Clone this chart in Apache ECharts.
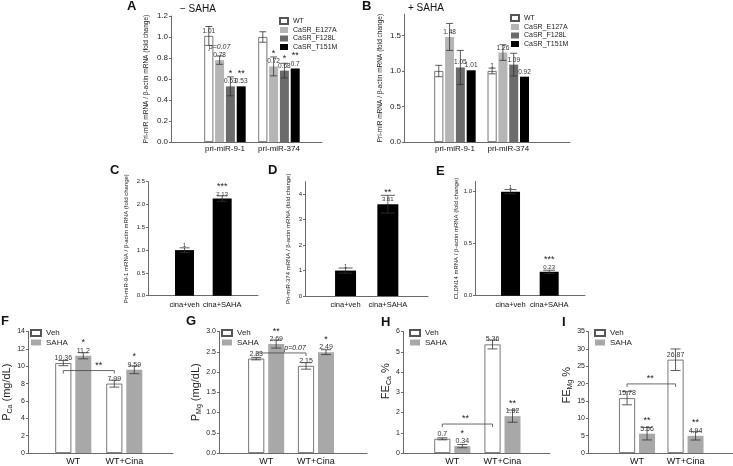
<!DOCTYPE html>
<html><head><meta charset="utf-8">
<script src="https://cdn.jsdelivr.net/npm/echarts@6/dist/echarts.min.js"></script>
<style>html,body{margin:0;padding:0;background:#fff}#c{width:733px;height:466px}</style>
</head><body><div id="c"></div>
<script>
// ---------------- DATA ----------------
// Panels A / B
const catsAB = ['pri-miR-9-1', 'pri-miR-374'];
const mutNames = ['WT', 'CaSR_E127A', 'CaSR_F128L', 'CaSR_T151M'];
const a_WT = [1.01, 1.0],    a_WT_err = [0.09, 0.05],    a_WT_lbl = ['1.01', ''],  a_WT_mark = ['', ''];
const a_E127A = [0.78, 0.72], a_E127A_err = [0.04, 0.09], a_E127A_mark = ['p=0.07', '*'];
const a_F128L = [0.53, 0.68], a_F128L_err = [0.09, 0.07], a_F128L_mark = ['*', '*'];
const a_T151M = [0.53, 0.7],  a_T151M_err = [0, 0],       a_T151M_mark = ['**', '**'];
const b_WT = [1.0, 1.0],      b_WT_err = [0.08, 0.04],    b_WT_lbl = ['', '1'];
const b_E127A = [1.48, 1.26], b_E127A_err = [0.19, 0.11];
const b_F128L = [1.05, 1.09], b_F128L_err = [0.24, 0.16];
const b_T151M = [1.01, 0.92], b_T151M_err = [0, 0];
// Panels C / D / E
const cats2 = ['cina+veh', 'cina+SAHA'];
const c_vals = [1, 2.13], c_err = [0.05, 0.06], c_mark = ['', '***'];
const d_vals = [1, 3.61], d_err = [0.1, 0.35],  d_mark = ['', '**'];
const e_vals = [1, 0.23], e_err = [0.02, 0.015], e_mark = ['', '***'];
// Panels F / G / H / I
const cats3 = ['WT', 'WT+Cina'];
const grpNames = ['Veh', 'SAHA'];
const f_veh = [10.36, 7.99], f_veh_err = [0.3, 0.4],   f_saha = [11.2, 9.59], f_saha_err = [0.35, 0.45], f_saha_mark = ['*', '*'], f_bracket = [9.5, '**'];
const g_veh = [2.33, 2.15],  g_veh_err = [0.03, 0.08], g_saha = [2.69, 2.49], g_saha_err = [0.1, 0.06],  g_saha_mark = ['**', '*'], g_bracket = [2.47, 'p=0.07'];
const h_veh = [0.7, 5.36],   h_veh_err = [0.05, 0.22], h_saha = [0.34, 1.82], h_saha_err = [0.08, 0.3],  h_saha_mark = ['*', '**'], h_bracket = [1.43, '**'];
const i_veh = [15.78, 26.87], i_veh_err = [1.9, 3.1],  i_saha = [5.56, 4.94], i_saha_err = [1.8, 1.2],   i_saha_mark = ['**', '**'], i_bracket = [19.9, '**'];

// ---------------- STYLE / LAYOUT ----------------
const FONT = '"Liberation Sans", Arial, sans-serif';
const AX = '#6a6a6a';
const STY = {
  white: {color: '#ffffff', borderColor: '#555', borderWidth: 0.8},
  light: {color: '#b5b5b5'},
  dark:  {color: '#6b6b6b'},
  black: {color: '#000000'},
  saha:  {color: '#a8a8a8'}
};
const f1 = v => v.toFixed(1);
const f0 = v => String(v);

const rowA = {t: 16, b: 142, tick: 8, cat: 8, catMargin: 3, barW: 9, barGap: '20%', lbl: 6.5, mark: 9, capW: 7, nameSize: 6.5};
const row2 = {t: 181.7, b: 295.7, tick: 6, cat: 7.5, catMargin: 5, lbl: 6, mark: 9, nameSize: 6};
const row3 = {t: 331.5, b: 453, tick: 7, cat: 9, catMargin: 4, barW: 16, barGap: '25%', lbl: 7, mark: 9, capW: 10, namePad: 0};

function sub3(main, sub, tail) { return '{m|' + main + '}{s|' + sub + '}{m|' + tail + '}'; }

const panels = [
  Object.assign({}, rowA, {frame: [171, 322], bars: [198, 306], max: 1.2, interval: 0.2, fmt: f1,
    yName: 'Pri-miR mRNA / β-actin mRNA (fold change)', nameGap: 21, cats: catsAB,
    series: [
      {name: mutNames[0], vals: a_WT, err: a_WT_err, lbl: a_WT_lbl, mark: a_WT_mark, sty: 'white'},
      {name: mutNames[1], vals: a_E127A, err: a_E127A_err, mark: a_E127A_mark, sty: 'light'},
      {name: mutNames[2], vals: a_F128L, err: a_F128L_err, mark: a_F128L_mark, sty: 'dark'},
      {name: mutNames[3], vals: a_T151M, err: a_T151M_err, mark: a_T151M_mark, sty: 'black'}]}),
  Object.assign({}, rowA, {t: 14.2, frame: [404, 570], bars: [428.3, 535], max: 1.8, interval: 0.5, hideMax: true, fmt: f1,
    yName: 'Pri-miR mRNA / β-actin mRNA (fold change)', nameGap: 20, cats: catsAB,
    series: [
      {name: mutNames[0], vals: b_WT, err: b_WT_err, lbl: b_WT_lbl, sty: 'white'},
      {name: mutNames[1], vals: b_E127A, err: b_E127A_err, sty: 'light'},
      {name: mutNames[2], vals: b_F128L, err: b_F128L_err, sty: 'dark'},
      {name: mutNames[3], vals: b_T151M, err: b_T151M_err, sty: 'black'}]}),
  Object.assign({}, row2, {frame: [148, 258], bars: [165.7, 241], max: 2.5, interval: 0.5, fmt: f1, barW: 19, capW: 10,
    yName: 'Pri-miR-9-1 mRNA / β-actin mRNA (fold change)', nameGap: 19, cats: cats2,
    series: [{name: 'c', vals: c_vals, err: c_err, mark: c_mark, sty: 'black'}]}),
  Object.assign({}, row2, {t: 181.6, b: 296, frame: [305, 428], bars: [324.4, 409], max: 4.5, interval: 1, hideMax: true, fmt: f0, barW: 21, capW: 14,
    yName: 'Pri-miR-374 mRNA / β-actin mRNA (fold change)', nameGap: 14, cats: cats2,
    series: [{name: 'd', vals: d_vals, err: d_err, mark: d_mark, sty: 'black'}]}),
  Object.assign({}, row2, {t: 181.3, frame: [475, 585], bars: [491.2, 568.5], max: 1.1, interval: 0.5, hideMax: true, fmt: f1, barW: 19, capW: 12,
    yName: 'CLDN14 mRNA / β-actin mRNA (fold change)', nameGap: 14, cats: cats2,
    series: [{name: 'e', vals: e_vals, err: e_err, mark: e_mark, sty: 'black'}]}),
  Object.assign({}, row3, {frame: [28, 173], bars: [47.8, 149.8], max: 14, interval: 2, fmt: f0, brDx: 10,
    yName: sub3('P', 'Ca', ' (mg/dL)'), nameGap: 10, cats: cats3, bracket: f_bracket,
    series: [{name: grpNames[0], vals: f_veh, err: f_veh_err, sty: 'white'},
             {name: grpNames[1], vals: f_saha, err: f_saha_err, mark: f_saha_mark, sty: 'saha'}]}),
  Object.assign({}, row3, {frame: [219, 367], bars: [241.3, 340.9], max: 3, interval: 0.5, fmt: f1, brDx: 14,
    yName: sub3('P', 'Mg', ' (mg/dL)'), nameGap: 14, cats: cats3, bracket: g_bracket,
    series: [{name: grpNames[0], vals: g_veh, err: g_veh_err, sty: 'white'},
             {name: grpNames[1], vals: g_saha, err: g_saha_err, mark: g_saha_mark, sty: 'saha'}]}),
  Object.assign({}, row3, {frame: [403, 550], bars: [427.2, 527.6], max: 6, interval: 1, fmt: f0, brDx: -2, namePad: 22,
    yName: sub3('FE', 'Ca', ' %'), nameGap: 10, cats: cats3, bracket: h_bracket,
    series: [{name: grpNames[0], vals: h_veh, err: h_veh_err, sty: 'white'},
             {name: grpNames[1], vals: h_saha, err: h_saha_err, mark: h_saha_mark, sty: 'saha'}]}),
  Object.assign({}, row3, {frame: [588, 733], bars: [612.8, 709.8], max: 35, interval: 5, fmt: f0, brDx: -1, namePad: 14,
    yName: sub3('FE', 'Mg', ' %'), nameGap: 12, cats: cats3, bracket: i_bracket,
    series: [{name: grpNames[0], vals: i_veh, err: i_veh_err, sty: 'white'},
             {name: grpNames[1], vals: i_saha, err: i_saha_err, mark: i_saha_mark, sty: 'saha'}]})
];

const option = {
  animation: false, backgroundColor: '#fff',
  textStyle: {fontFamily: FONT},
  grid: [], xAxis: [], yAxis: [], series: [], legend: [], title: []
};

function errSeries(idx, vals, errs, k, n, p) {
  return {
    type: 'custom', xAxisIndex: idx, yAxisIndex: idx, z: 5, silent: true,
    data: vals.map((v, i) => [i, v, errs[i]]),
    renderItem: function (params, api) {
      const e = api.value(2);
      if (!e) return null;
      const lay = api.barLayout({barWidth: p.barW, barGap: p.barGap || '30%', count: n});
      const c = api.coord([api.value(0), api.value(1)]);
      const x = c[0] + lay[k].offsetCenter;
      const yT = api.coord([api.value(0), api.value(1) + e])[1];
      const yB = api.coord([api.value(0), api.value(1) - e])[1];
      const h = p.capW / 2;
      const st = {stroke: '#333', lineWidth: 0.8};
      return {type: 'group', children: [
        {type: 'line', shape: {x1: x, y1: yT, x2: x, y2: yB}, style: st},
        {type: 'line', shape: {x1: x - h, y1: yT, x2: x + h, y2: yT}, style: st},
        {type: 'line', shape: {x1: x - h, y1: yB, x2: x + h, y2: yB}, style: st}
      ]};
    }
  };
}

function bracketSeries(idx, br, n, p) {
  const txt = br[1];
  const italic = txt.charAt(0) === 'p';
  return {
    type: 'custom', xAxisIndex: idx, yAxisIndex: idx, z: 6, silent: true,
    data: [[0, br[0]]],
    renderItem: function (params, api) {
      const lay = api.barLayout({barWidth: p.barW, barGap: p.barGap, count: n});
      const c0 = api.coord([0, api.value(1)]);
      const c1 = api.coord([1, api.value(1)]);
      const x1 = c0[0] + lay[0].offsetCenter, x2 = c1[0] + lay[0].offsetCenter, y = c0[1];
      return {type: 'group', children: [
        {type: 'polyline', shape: {points: [[x1, y + 3], [x1, y], [x2, y], [x2, y + 3]]},
         style: {stroke: '#444', lineWidth: 0.8, fill: null}},
        {type: 'text', style: {text: txt, x: (x1 + x2) / 2 + (p.brDx || 0), y: y - 1, align: 'center', verticalAlign: 'bottom',
          fill: '#222', font: (italic ? 'italic ' : '') + (italic ? 7 : 9) + 'px ' + FONT}}
      ]};
    }
  };
}

panels.forEach(p => {
  const gi = option.grid.length;
  const t = p.t, h = p.b - p.t;
  option.grid.push({left: p.frame[0], top: t, width: p.frame[1] - p.frame[0], height: h, containLabel: false, outerBoundsMode: 'none'});
  option.xAxis.push({gridIndex: gi, type: 'value', min: 0, max: 1, axisLine: {show: true, onZero: false, lineStyle: {color: AX, width: 1}},
    axisTick: {show: false}, axisLabel: {show: false}, splitLine: {show: false}});
  option.yAxis.push({gridIndex: gi, type: 'value', min: 0, max: p.max, interval: p.interval,
    axisLine: {show: true, lineStyle: {color: AX, width: 1}},
    axisTick: {show: true, length: 2, lineStyle: {color: AX}},
    axisLabel: {fontSize: p.tick, color: '#222', margin: 3, showMaxLabel: !p.hideMax, formatter: p.fmt, fontFamily: FONT},
    splitLine: {show: false},
    name: p.yName, nameLocation: 'middle', nameRotate: 90, nameGap: p.nameGap,
    nameTextStyle: p.nameSize ? {fontSize: p.nameSize, color: '#222', fontFamily: FONT} :
      {color: '#222', fontFamily: FONT, padding: [0, 0, 0, p.namePad || 0],
       rich: {m: {fontSize: 11, color: '#222', fontFamily: FONT}, s: {fontSize: 7, color: '#222', fontFamily: FONT, padding: [6, 0, 0, 0]}}}
  });
  const bi = gi + 1;
  option.grid.push({left: p.bars[0], top: t, width: p.bars[1] - p.bars[0], height: h, containLabel: false, outerBoundsMode: 'none'});
  option.xAxis.push({gridIndex: bi, type: 'category', data: p.cats, axisLine: {show: false}, axisTick: {show: false},
    axisLabel: {fontSize: p.cat, color: '#111', margin: p.catMargin, interval: 0, fontFamily: FONT}, splitLine: {show: false}});
  option.yAxis.push({gridIndex: bi, type: 'value', min: 0, max: p.max, show: false});
  const n = p.series.length;
  p.series.forEach((s, k) => {
    const labels = s.lbl || s.vals.map(String);
    const marks = s.mark || s.vals.map(() => '');
    option.series.push({
      type: 'bar', name: s.name, xAxisIndex: bi, yAxisIndex: bi, data: s.vals,
      barWidth: p.barW, barGap: p.barGap || '30%', itemStyle: STY[s.sty], silent: true,
      emphasis: {disabled: true},
      label: {show: true, position: 'top', distance: 1,
        formatter: prm => {
          const m = marks[prm.dataIndex], l = labels[prm.dataIndex];
          let out = '';
          if (m) out += (m.charAt(0) === 'p' ? '{p|' + m + '}' : '{s|' + m + '}') + '\n';
          out += '{v|' + (l || ' ') + '}';
          return out;
        },
        rich: {
          v: {fontSize: p.lbl, color: '#333', lineHeight: p.lbl + 1, fontFamily: FONT},
          s: {fontSize: p.mark, color: '#222', lineHeight: p.mark - 1, fontFamily: FONT},
          p: {fontSize: p.lbl + 0.5, color: '#333', fontStyle: 'italic', lineHeight: p.lbl + 3, fontFamily: FONT}
        }}
    });
    option.series.push(errSeries(bi, s.vals, s.err, k, n, p));
  });
  if (p.bracket) option.series.push(bracketSeries(bi, p.bracket, n, p));
});

// legends
const legBase = {orient: 'vertical', icon: 'rect', selectedMode: false, padding: 0};
option.legend.push(Object.assign({}, legBase, {data: mutNames, left: 279, top: 17, itemWidth: 8, itemHeight: 6, itemGap: 1.5,
  textStyle: {fontSize: 7, lineHeight: 7, color: '#222', fontFamily: FONT}}));
option.legend.push(Object.assign({}, legBase, {data: mutNames, left: 510, top: 14, itemWidth: 8, itemHeight: 6, itemGap: 1.5,
  textStyle: {fontSize: 7, lineHeight: 7, color: '#222', fontFamily: FONT}}));
[30, 221, 409, 594].forEach(l => option.legend.push(Object.assign({}, legBase, {data: grpNames, left: l, top: 329,
  itemWidth: 10, itemHeight: 6, itemGap: 1.5, textStyle: {fontSize: 8, lineHeight: 7, color: '#222', fontFamily: FONT}})));

// panel letters and headers
const letters = [['A', 127, 0], ['B', 362, 0], ['C', 110, 164], ['D', 268, 164], ['E', 436, 165],
                 ['F', 1, 315], ['G', 186, 315], ['H', 381, 316], ['I', 562, 316]];
letters.forEach(L => option.title.push({text: L[0], left: L[1], top: L[2], padding: 0,
  textStyle: {fontSize: 13, fontWeight: 'bold', color: '#111', fontFamily: FONT}}));
option.title.push({text: '− SAHA', left: 180, top: 4, padding: 0, textStyle: {fontSize: 10, fontWeight: 'normal', color: '#111', fontFamily: FONT}});
option.title.push({text: '+ SAHA', left: 408, top: 3, padding: 0, textStyle: {fontSize: 10, fontWeight: 'normal', color: '#111', fontFamily: FONT}});

const chart = echarts.init(document.getElementById('c'), null, {renderer: 'canvas'});
chart.setOption(option);
</script></body></html>
